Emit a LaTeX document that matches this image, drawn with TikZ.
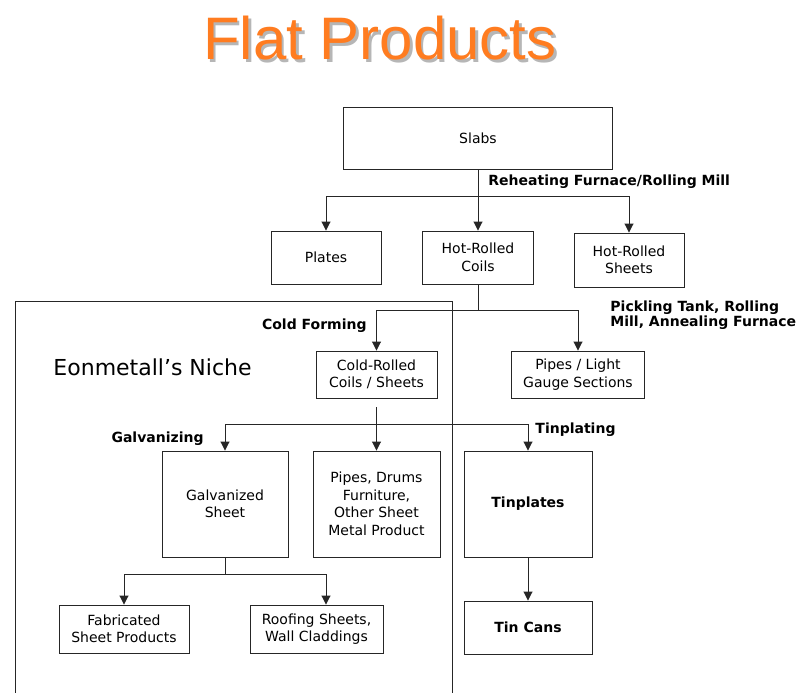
\documentclass[tikz,border=0pt]{standalone}
\usepackage{fontspec}
\setmainfont{DejaVu Sans}
\newfontfamily\titlefont{Liberation Sans}
\usepackage{xcolor}
\usepackage{tikz}
\usetikzlibrary{positioning,arrows.meta}
\definecolor{titleorange}{RGB}{255,124,32}
\definecolor{titleshadow}{RGB}{182,182,182}

\begin{document}
\begin{tikzpicture}[x=1pt, y=-1pt, on grid, line width=0.9pt,
    font=\fontsize{14}{17.5}\selectfont,
    prodbox/.style={draw=black!85, align=center, inner sep=2pt},
    stage/.style={font=\fontsize{14}{15}\selectfont\bfseries, align=left, inner sep=0pt},
    flow/.style={draw=black!85, -{Triangle[width=9pt,length=9pt]}},
    link/.style={draw=black!85},
    bigtitle/.style={font=\titlefont\fontsize{60}{72}\selectfont, anchor=base}]
    \useasboundingbox (0,0) rectangle (796,693);

    % Title
    \node[bigtitle, text=titleshadow] (titleback) at (382.5,62.5) {Flat Products};
    \node[bigtitle, text=titleorange] (title) at (380,60) {Flat Products};

    % Niche frame
    \draw[link] (15,693) |- (452,301) -- (452,693);
    \node[font=\fontsize{22}{26}\selectfont, anchor=west, inner sep=0pt] (niche) at (53,367) {Eonmetall’s Niche};

    % Products
    \node[prodbox, minimum width=269pt, minimum height=62pt] (slabs) at (478,138) {Slabs};
    \node[prodbox, minimum width=111pt, minimum height=53pt] (hrcoils) [below=119.5pt of slabs] {Hot-Rolled\\Coils};
    \node[prodbox, minimum width=110pt, minimum height=53pt] (plates) [left=152pt of hrcoils] {Plates};
    \node[prodbox, minimum width=110pt, minimum height=54pt] (hrsheets) [below right=2.5pt and 151pt of hrcoils] {Hot-Rolled\\Sheets};
    \node[prodbox, minimum width=121pt, minimum height=47pt] (coldrolled) [below left=117pt and 101.5pt of hrcoils] {Cold-Rolled\\Coils / Sheets};
    \node[prodbox, minimum width=133pt, minimum height=47pt] (pipeslight) [right=201.5pt of coldrolled] {Pipes / Light\\Gauge Sections};
    \node[prodbox, minimum width=127pt, minimum height=106pt] (pipesdrums) [below=129.5pt of coldrolled] {Pipes, Drums\\Furniture,\\Other Sheet\\Metal Product};
    \node[prodbox, minimum width=126pt, minimum height=106pt] (galv) [left=151.5pt of pipesdrums] {Galvanized\\Sheet};
    \node[prodbox, minimum width=128pt, minimum height=106pt, font=\fontsize{14}{17.5}\selectfont\bfseries] (tinplates) [right=151.5pt of pipesdrums] {Tinplates};
    \node[prodbox, minimum width=130pt, minimum height=48pt] (fabricated) [below left=125pt and 101pt of galv] {Fabricated\\Sheet Products};
    \node[prodbox, minimum width=133pt, minimum height=48pt] (roofing) [right=192.5pt of fabricated] {Roofing Sheets,\\Wall Claddings};
    \node[prodbox, minimum width=128pt, minimum height=53pt, font=\fontsize{14}{17.5}\selectfont\bfseries] (tincans) [below=123.5pt of tinplates] {Tin Cans};

    % Process labels
    \node[stage, anchor=west] (reheat) at ([xshift=10pt, yshift=-12pt]slabs.south) {Reheating Furnace/Rolling Mill};
    \node[stage, anchor=west] (pickling) at ([xshift=32pt, yshift=35.5pt]pipeslight.north) {Pickling Tank, Rolling\\Mill, Annealing Furnace};
    \node[stage, anchor=east] (coldform) at ([xshift=-9.5pt, yshift=25pt]coldrolled.north) {Cold Forming};
    \node[stage, anchor=east] (galvanizing) at ([xshift=-21pt, yshift=12pt]galv.north) {Galvanizing};
    \node[stage, anchor=west] (tinplating) at ([xshift=7pt, yshift=21pt]tinplates.north) {Tinplating};

    % Splits
    \coordinate (hotsplit) at ([yshift=-27pt]slabs.south);
    \coordinate (coldsplit) at ([yshift=-26pt]hrcoils.south);
    \coordinate (sheetsplit) at ([yshift=-26pt]coldrolled.south);
    \coordinate (galvsplit) at ([yshift=-17pt]galv.south);

    % Arrows
    \draw[flow] (slabs) -- (hrcoils);
    \draw[flow] (hotsplit) -| (plates);
    \draw[flow] (hotsplit) -| (hrsheets);
    \draw[link] (hrcoils) -- (coldsplit);
    \draw[flow] (coldsplit) -| (coldrolled);
    \draw[flow] (coldsplit) -| (pipeslight);
    \draw[link, shorten <=9pt] (coldrolled) -- (sheetsplit);
    \draw[flow] (sheetsplit) -- (pipesdrums);
    \draw[flow] (sheetsplit) -| (galv);
    \draw[flow] (sheetsplit) -| (tinplates);
    \draw[link] (galv) -- (galvsplit);
    \draw[flow] (galvsplit) -| (fabricated);
    \draw[flow] (galvsplit) -| ([xshift=9.5pt]roofing.north);
    \draw[flow] (tinplates) -- (tincans);
\end{tikzpicture}
\end{document}
